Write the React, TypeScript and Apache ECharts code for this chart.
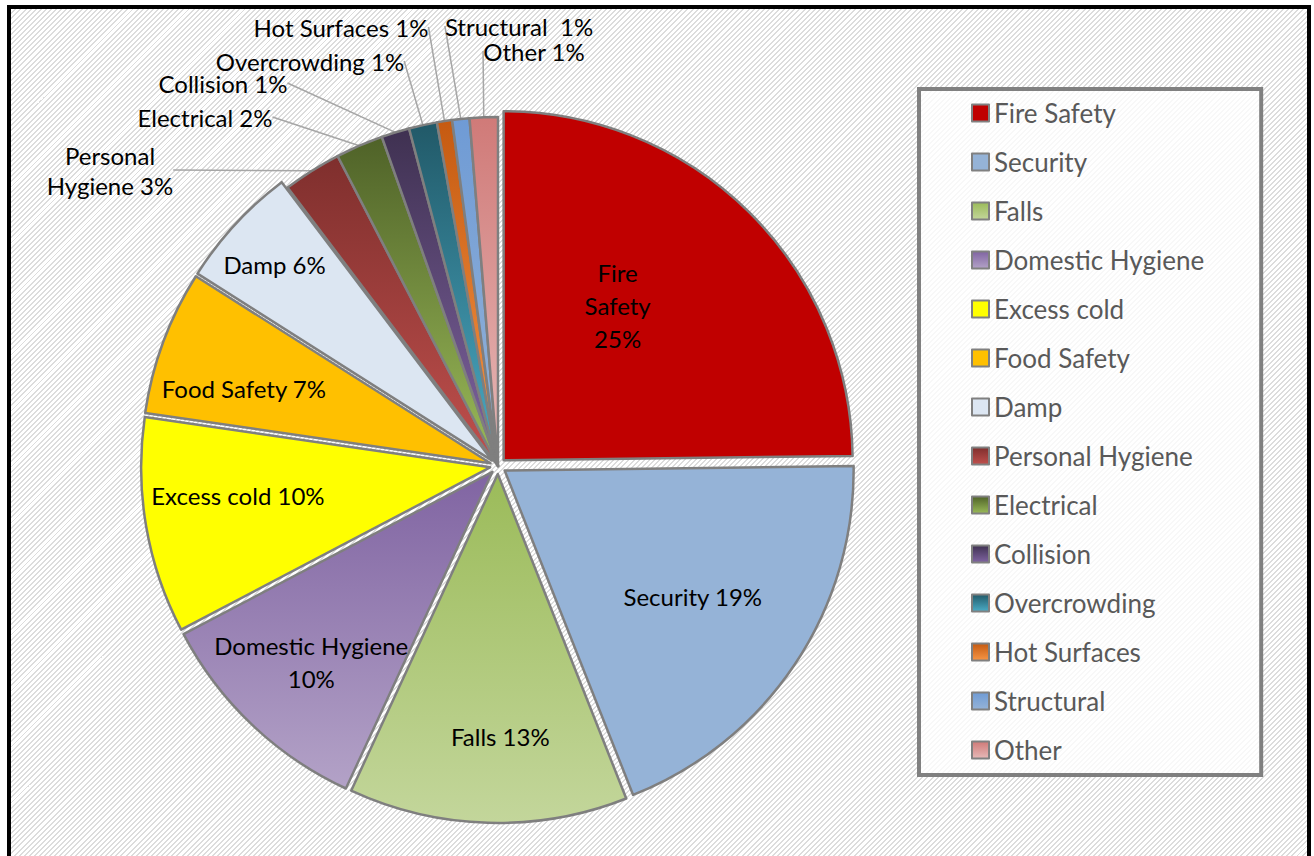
import React, { useEffect, useRef } from "react";
import * as echarts from "echarts";

// ---- data ----
const categories = [
  "Fire Safety",
  "Security",
  "Falls",
  "Domestic Hygiene",
  "Excess cold",
  "Food Safety",
  "Damp",
  "Personal Hygiene",
  "Electrical",
  "Collision",
  "Overcrowding",
  "Hot Surfaces",
  "Structural",
  "Other",
];
const shares = [24.8, 19.2, 12.9, 10.4, 10.0, 6.7, 5.7, 2.7, 2.2, 1.3, 1.3, 0.7, 0.8, 1.3];

// ---- styles ----
const sliceColors: [string, string][] = [
  ["#C00000", "#C00000"],
  ["#95B3D7", "#95B3D7"],
  ["#9BBB59", "#C3D69B"],
  ["#8064A2", "#B3A2C7"],
  ["#FFFF00", "#FFFF00"],
  ["#FFC000", "#FFC000"],
  ["#DCE6F2", "#DCE6F2"],
  ["#7F2F2D", "#C0504D"],
  ["#4F6228", "#9BBB59"],
  ["#3F3151", "#8064A2"],
  ["#215968", "#4BACC6"],
  ["#C55A11", "#F79646"],
  ["#6F9BD5", "#95B3D7"],
  ["#D07A78", "#E6B9B8"],
];

// label text layouts (an empty line nudges a label up or down inside its slice)
const labelTemplates: Record<string, string> = {
  "Fire Safety": "Fire\nSafety\n{p}%\n",
  "Domestic Hygiene": "Domestic Hygiene\n{p}%",
  "Excess cold": "{n} {p}%\n",
  "Food Safety": "\n{n} {p}%",
  "Personal Hygiene": "Personal\nHygiene {p}%",
  Structural: "Structural  {p}%",
};

// radial depth (fraction of radius) of labels drawn inside slices
const insideLabelDepth: Record<string, number> = {
  "Fire Safety": 0.55,
  Security: 0.64,
  Falls: 0.745,
  "Domestic Hygiene": 0.745,
  "Excess cold": 0.745,
  "Food Safety": 0.745,
  Damp: 0.82,
};
// horizontal nudges of inside labels (text-box padding: top, right, bottom, left)
const insideLabelPadding: Record<string, number[]> = {
  "Fire Safety": [0, 46, 0, 0],
  Falls: [0, 0, 0, 20],
  "Excess cold": [0, 0, 0, 14],
  Damp: [0, 10, 0, 0],
};

// placement (label centre) of callout labels for thin slices
const calloutPos: Record<string, [number, number]> = {
  "Personal Hygiene": [110, 170],
  Electrical: [205, 117],
  Collision: [223, 83],
  Overcrowding: [310, 61],
  "Hot Surfaces": [341, 27],
  Structural: [519, 26],
  Other: [534, 51],
};

const CENTER: [number, number] = [498, 466];
const RADIUS = 349;
const OFFSET = 8;
const FONT = "Lato";

function labelText(name: string, pct: number) {
  const p = String(Math.round(pct));
  const t = labelTemplates[name] || "{n} {p}%";
  return t.replace("{n}", name).replace("{p}", p);
}

export default function App() {
  const ref = useRef<HTMLDivElement>(null);
  useEffect(() => {
    if (!ref.current) return;
    const chart = echarts.init(ref.current, undefined, { renderer: "svg" });

    const mainData = categories.map((name, i) => {
      const hasCallout = calloutPos[name] != null;
      const [c0, c1] = sliceColors[i];
      return {
        name,
        value: shares[i],
        selected: !hasCallout,
        itemStyle: {
          color:
            c0 === c1
              ? c0
              : new echarts.graphic.LinearGradient(0, 0, 0, 1, [
                  { offset: 0, color: c0 },
                  { offset: 1, color: c1 },
                ]),
        },
        label: {
          show: hasCallout,
          lineHeight: name === "Personal Hygiene" ? 30 : 20,
        },
        labelLine: { show: hasCallout },
      };
    });

    const depthGroups = Array.from(new Set(Object.values(insideLabelDepth)));
    const overlaySeries = depthGroups.map((f) => ({
      type: "pie",
      center: CENTER,
      radius: [Math.round((2 * f - 1) * RADIUS), RADIUS],
      startAngle: 90,
      clockwise: true,
      selectedMode: "multiple",
      selectedOffset: OFFSET,
      silent: true,
      legendHoverLink: false,
      avoidLabelOverlap: false,
      emphasis: { disabled: true },
      itemStyle: { color: "rgba(0,0,0,0)", borderWidth: 0 },
      label: {
        position: "inside",
        color: "#000",
        fontFamily: FONT,
        fontSize: 24,
        lineHeight: 33,
        align: "center",
        formatter: (p: any) => labelText(p.name, p.percent),
      },
      labelLine: { show: false },
      z: 5,
      data: categories.map((name, i) => ({
        name,
        value: shares[i],
        selected: true,
        label: {
          show: insideLabelDepth[name] === f,
          padding: insideLabelPadding[name] || 0,
        },
      })),
    }));

    chart.setOption({
      animation: false,
      backgroundColor: "transparent",
      legend: {
        orient: "vertical",
        left: 919,
        top: 89,
        padding: [11, 57, 12, 52],
        itemGap: 23,
        itemWidth: 17,
        itemHeight: 17,
        icon: "rect",
        selectedMode: false,
        backgroundColor: "rgba(255,255,255,0.8)",
        borderColor: "#808080",
        borderWidth: 4,
        textStyle: { fontFamily: FONT, fontSize: 26, color: "#595959" },
        itemStyle: { borderColor: "#808080", borderWidth: 2 },
        data: categories,
      },
      series: [
        {
          type: "pie",
          center: CENTER,
          radius: RADIUS,
          startAngle: 90,
          clockwise: true,
          selectedMode: "multiple",
          selectedOffset: OFFSET,
          avoidLabelOverlap: false,
          emphasis: { disabled: true },
          itemStyle: { borderColor: "#7F7F7F", borderWidth: 2.5 },
          label: {
            position: "outside",
            color: "#000",
            fontFamily: FONT,
            fontSize: 24,
            lineHeight: 20,
            align: "center",
            formatter: (p: any) => labelText(p.name, p.percent),
          },
          labelLine: {
            length: 10,
            length2: 0,
            lineStyle: { color: "#A6A6A6", width: 1.5 },
          },
          labelLayout: (params: any) => {
            const name = categories[params.dataIndex];
            const pos = calloutPos[name];
            if (!pos) return {};
            return {
              x: pos[0],
              y: pos[1],
              align: "center",
              verticalAlign: "middle",
              hideOverlap: false,
            };
          },
          data: mainData,
        },
        ...overlaySeries,
      ],
    } as any);

    return () => chart.dispose();
  }, []);

  return (
    <>
      <div
        style={{
          position: "fixed",
          left: 7,
          top: 5,
          width: 1304,
          height: 900,
          boxSizing: "border-box",
          border: "4px solid #000",
          backgroundColor: "#fff",
          backgroundImage:
            "repeating-linear-gradient(-45deg, #ffffff 0px, #ffffff 2.2px, #dcdcdc 2.2px, #dcdcdc 3.6px)",
        }}
      />
      <div
        ref={ref}
        style={{ position: "fixed", left: 0, top: 0, width: 1314, height: 856 }}
      />
    </>
  );
}
